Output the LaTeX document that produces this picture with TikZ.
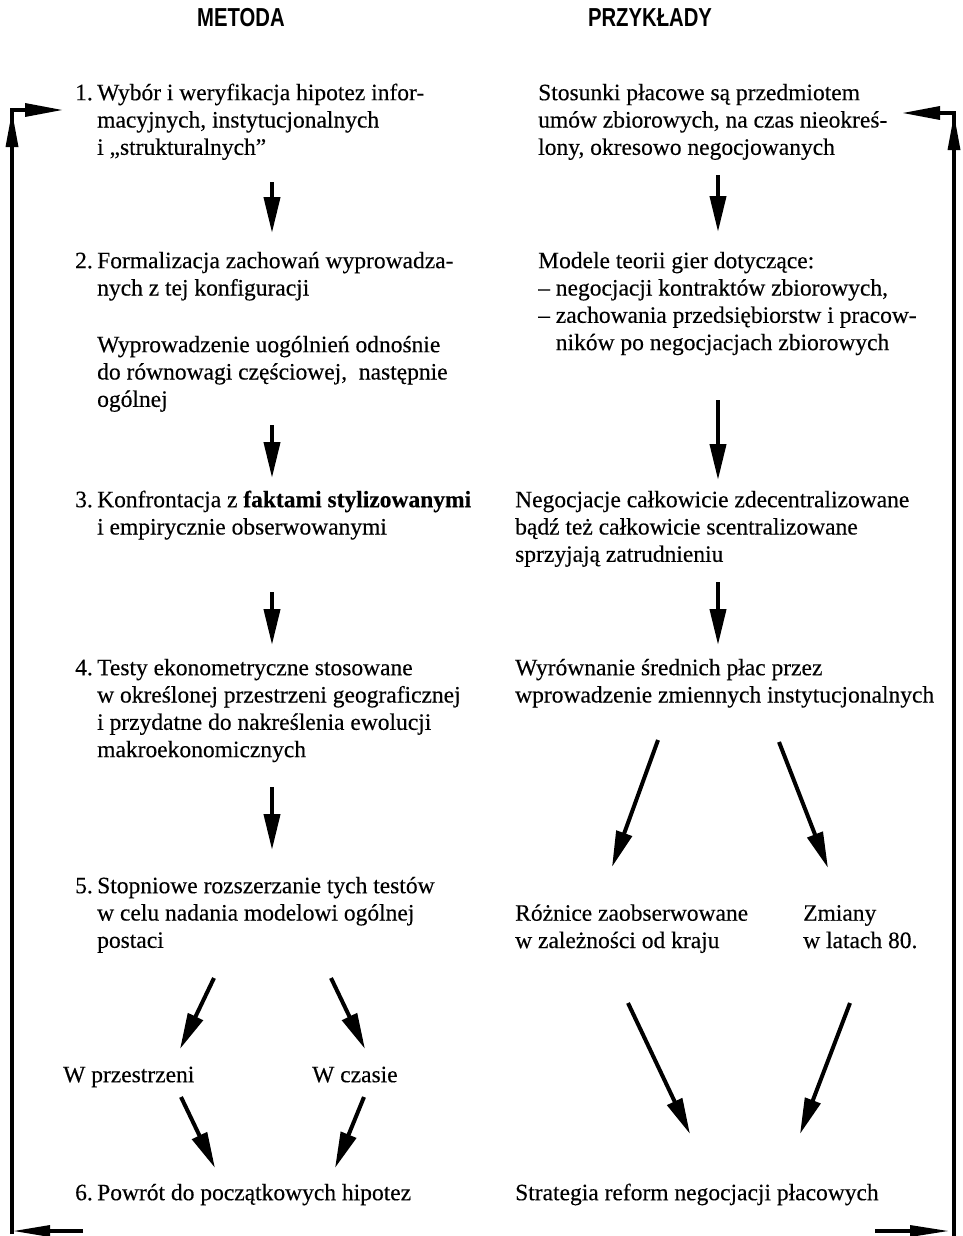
\documentclass[tikz,border=0pt]{standalone}
\usepackage{fontspec}
\setmainfont[FakeBold=0.3]{Liberation Serif}
\newfontfamily\headfont[FakeStretch=0.78]{Liberation Sans}
\usetikzlibrary{arrows.meta}
\tikzset{
  txt/.style={anchor=north west, inner sep=0pt, align=left, font=\fontsize{23.5}{27.3}\selectfont},
  head/.style={anchor=base, inner sep=0pt, font=\headfont\bfseries\fontsize{26}{30}\selectfont},
  arr/.style={line width=4pt, -{Triangle[length=36pt,width=16pt]}},
  loopline/.style={line width=3.5pt},
  tri/.style={fill=black}
}
\newcommand\nm[1]{\makebox[22pt][l]{#1}}
\newcommand\ind{\hspace*{22pt}}
\begin{document}
\begin{tikzpicture}[x=1pt,y=-1pt]
\useasboundingbox (0,0) rectangle (963,1236);
% headings
\node[head] (hm) at (241,27) {METODA};
\node[head] (hp) at (650,27) {PRZYKŁADY};
% left column (top = baseline - 19.11)
\node[txt] (m1) at (75,80.9) {\strut\nm{1.}Wybór i weryfikacja hipotez infor-\\\ind macyjnych, instytucjonalnych\\\ind i „strukturalnych”};
\node[txt] (m2) at (75,248.9) {\strut\nm{2.}Formalizacja zachowań wyprowadza-\\\ind nych z tej konfiguracji};
\node[txt] (m2b) at (97,332.9) {\strut Wyprowadzenie uogólnień odnośnie\\do równowagi częściowej,\ \ następnie\\ogólnej};
\node[txt] (m3) at (75,487.9) {\strut\nm{3.}Konfrontacja z \textbf{faktami stylizowanymi}\\\ind i empirycznie obserwowanymi};
\node[txt] (m4) at (75,655.9) {\strut\nm{4.}Testy ekonometryczne stosowane\\\ind w określonej przestrzeni geograficznej\\\ind i przydatne do nakreślenia ewolucji\\\ind makroekonomicznych};
\node[txt] (m5) at (75,873.9) {\strut\nm{5.}Stopniowe rozszerzanie tych testów\\\ind w celu nadania modelowi ogólnej\\\ind postaci};
\node[txt] (wp) at (63,1062.9) {\strut W przestrzeni};
\node[txt] (wc) at (312,1062.9) {\strut W czasie};
\node[txt] (m6) at (75,1180.9) {\strut\nm{6.}Powrót do początkowych hipotez};
% right column
\node[txt] (p1) at (538,80.9) {\strut Stosunki płacowe są przedmiotem\\umów zbiorowych, na czas nieokreś-\\lony, okresowo negocjowanych};
\node[txt] (p2) at (538,248.9) {\strut Modele teorii gier dotyczące:\\– negocjacji kontraktów zbiorowych,\\– zachowania przedsiębiorstw i pracow-\\\hspace*{17.6pt}ników po negocjacjach zbiorowych};
\node[txt] (p3) at (515,487.9) {\strut Negocjacje całkowicie zdecentralizowane\\bądź też całkowicie scentralizowane\\sprzyjają zatrudnieniu};
\node[txt] (p4) at (515,655.9) {\strut Wyrównanie średnich płac przez\\wprowadzenie zmiennych instytucjonalnych};
\node[txt] (p5a) at (515,901.4) {\strut Różnice zaobserwowane\\w zależności od kraju};
\node[txt] (p5b) at (803,901.4) {\strut Zmiany\\w latach 80.};
\node[txt] (p6) at (515,1180.9) {\strut Strategia reform negocjacji płacowych};
% arrow coordinates, left
\coordinate (a1s) at (272,182); \coordinate (a1e) at (272,233);
\coordinate (a2s) at (272,425); \coordinate (a2e) at (272,478);
\coordinate (a3s) at (272,592); \coordinate (a3e) at (272,645);
\coordinate (a4s) at (272,787); \coordinate (a4e) at (272,850);
\coordinate (a5s) at (214,978); \coordinate (a5e) at (180,1049);
\coordinate (a6s) at (331,978); \coordinate (a6e) at (365,1049);
\coordinate (a7s) at (181,1097); \coordinate (a7e) at (215,1168);
\coordinate (a8s) at (364,1097); \coordinate (a8e) at (335,1168);
\draw[arr] (a1s) -- (a1e);
\draw[arr] (a2s) -- (a2e);
\draw[arr] (a3s) -- (a3e);
\draw[arr] (a4s) -- (a4e);
\draw[arr] (a5s) -- (a5e);
\draw[arr] (a6s) -- (a6e);
\draw[arr] (a7s) -- (a7e);
\draw[arr] (a8s) -- (a8e);
% arrow coordinates, right
\coordinate (b1s) at (718,175); \coordinate (b1e) at (718,232);
\coordinate (b2s) at (718,400); \coordinate (b2e) at (718,480);
\coordinate (b3s) at (718,582); \coordinate (b3e) at (718,645);
\coordinate (b4s) at (658,740); \coordinate (b4e) at (612,867);
\coordinate (b5s) at (779,742); \coordinate (b5e) at (828,868);
\coordinate (b6s) at (628,1003); \coordinate (b6e) at (690,1134);
\coordinate (b7s) at (850,1003); \coordinate (b7e) at (800,1134);
\draw[arr] (b1s) -- (b1e);
\draw[arr] (b2s) -- (b2e);
\draw[arr] (b3s) -- (b3e);
\draw[arr] (b4s) -- (b4e);
\draw[arr] (b5s) -- (b5e);
\draw[arr] (b6s) -- (b6e);
\draw[arr] (b7s) -- (b7e);
% feedback loop, left
\coordinate (lb) at (12,1234); \coordinate (lt) at (12,110); \coordinate (lr) at (30,110);
\coordinate (lbs) at (83,1231); \coordinate (lbe) at (48,1231);
\draw[loopline] (lb) -- (lt) -- (lr);
\fill[tri] (5.5,147) -- (12,112) -- (18.5,147) -- cycle;
\fill[tri] (25,103) -- (62,110) -- (25,117) -- cycle;
\draw[loopline] (lbs) -- (lbe);
\fill[tri] (50,1225) -- (14,1231) -- (50,1237) -- cycle;
% feedback loop, right
\coordinate (rb) at (954,1236); \coordinate (rt) at (954,113); \coordinate (rl) at (936,113);
\coordinate (rbs) at (875,1231); \coordinate (rbe) at (912,1231);
\draw[loopline] (rb) -- (rt) -- (rl);
\fill[tri] (947.5,150) -- (954,115) -- (960.5,150) -- cycle;
\fill[tri] (940,106) -- (903,113) -- (940,120) -- cycle;
\draw[loopline] (rbs) -- (rbe);
\fill[tri] (910,1225) -- (948,1231) -- (910,1237) -- cycle;
\end{tikzpicture}
\end{document}
